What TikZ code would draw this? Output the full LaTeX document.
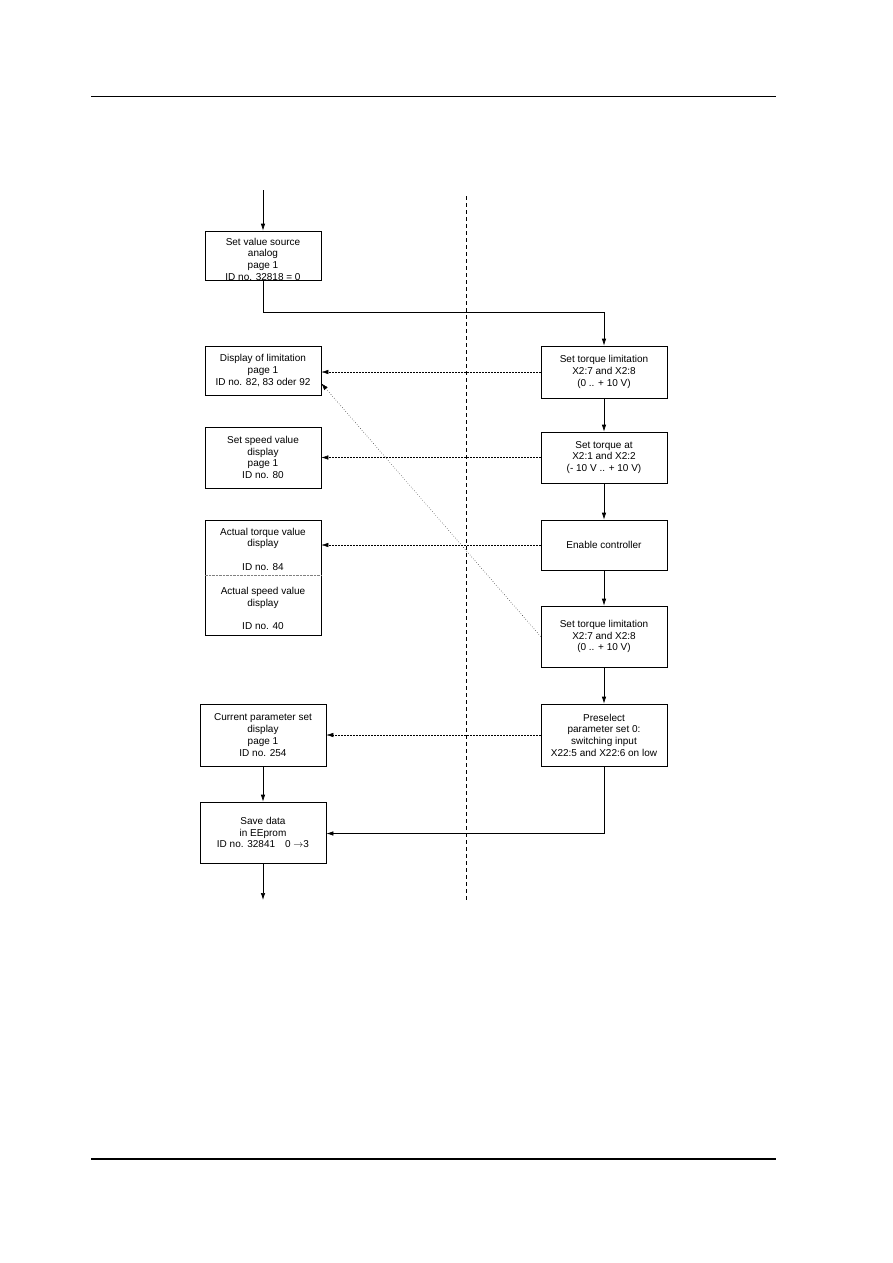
\documentclass[tikz,border=0pt]{standalone}
\usepackage{fontspec}
\setmainfont{Liberation Sans}
\usetikzlibrary{arrows.meta}

\begin{document}
\begin{tikzpicture}[
  x=1pt, y=-1pt, line width=0.7pt,
  font=\fontsize{10}{11.7}\selectfont, >={Latex[length=7pt,width=4.5pt]},
  box/.style={draw, align=center, inner sep=2pt},
  lbox/.style={box, minimum width=116pt},
  rbox/.style={box, minimum width=126pt},
  txt/.style={align=center, inner sep=0pt},
  dlink/.style={->, densely dotted, line width=0.5pt}
]
\useasboundingbox (0,0) rectangle (893,1263);

% page rules and the dividing line
\draw[line width=1pt] (91,96) -- (776,96);
\draw[line width=2pt] (91,1159) -- (776,1159);
\draw[line width=0.6pt, dash pattern=on 4pt off 3pt] (466,196) -- (466,900);

% left column
\node[lbox, minimum height=49pt] (src) at (263,255.5) {};
\node[txt] (srctxt) at (263,259) {Set value source\\analog\\page 1\\ID no. 32818 = 0};
\node[lbox, minimum height=49pt] (dlim) at (263,370.5) {Display of limitation\\page 1\\ID no. 82, 83 oder 92};
\node[lbox, minimum height=61pt] (dspd) at (263,457.5) {Set speed value\\display\\page 1\\ID no. 80};
\node[lbox, minimum height=115pt] (act) at (263,577.5) {};
\node[txt] (acttq) at (263,549) {Actual torque value\\display\\[11.7pt]ID no. 84};
\node[txt] (actsp) at (263,608.5) {Actual speed value\\display\\[11.7pt]ID no. 40};
\coordinate (div) at (263,575);
\node[rbox, minimum height=62pt] (cur)  at (263,735) {Current parameter set\\display\\page 1\\ID no. 254};
\node[rbox, minimum height=61pt] (save) at (263,832.5) {Save data\\in EEprom\\ID no. 32841\quad 0 $\rightarrow$3};

% right column
\node[rbox, minimum height=52pt] (lim1) at (604,372) {Set torque limitation\\X2:7 and X2:8\\(0 .. + 10 V)};
\node[rbox, minimum height=51pt] (tq)   at (604,457.5) {Set torque at\\X2:1 and X2:2\\(- 10 V .. + 10 V)};
\node[rbox, minimum height=50pt] (en)   at (604,545) {Enable controller};
\node[rbox, minimum height=61pt] (lim2) at (604,636.5) {Set torque limitation\\X2:7 and X2:8\\(0 .. + 10 V)};
\node[rbox, minimum height=62pt] (pre)  at (604,735) {Preselect\\parameter set 0:\\switching input\\X22:5 and X22:6 on low};

\coordinate (in)  at (263,190);
\coordinate (out) at (263,900);

\draw[densely dotted, line width=0.4pt, gray] (act.west |- div) -- (act.east |- div);

% main flow
\draw[->] (in) -- (src);
\draw[->] (src.south) -- ++(0,32) -| (lim1.north);
\draw[->] (lim1) -- (tq);
\draw[->] (tq) -- (en);
\draw[->] (en) -- (lim2);
\draw[->] (lim2) -- (pre);
\draw[->] (pre.south) |- ([yshift=-1pt]save.east);
\draw[->] (cur) -- (save);
\draw[->] (save) -- (out);

% displays
\draw[dlink] (lim1.west) -- (lim1.west -| dlim.east);
\draw[dlink] (tq.west) -- (tq.west -| dspd.east);
\draw[dlink] (en.west) -- (en.west -| act.east);
\draw[dlink, dotted, line width=0.45pt] (lim2.west) -- ([yshift=12pt]dlim.south east);
\draw[dlink] (pre.west) -- (pre.west -| cur.east);
\end{tikzpicture}
\end{document}
